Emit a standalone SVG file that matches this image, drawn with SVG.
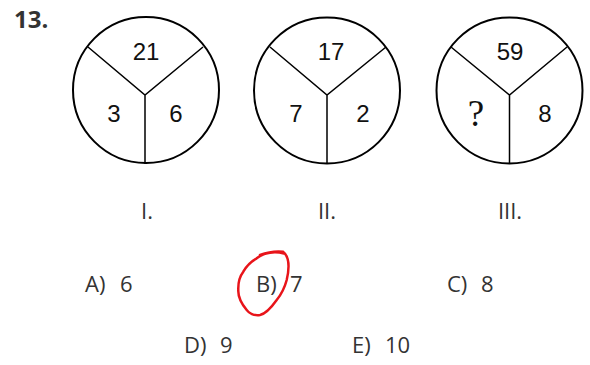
<svg xmlns="http://www.w3.org/2000/svg" width="590" height="365" viewBox="0 0 590 365">
<style>
.c{fill:none;stroke:#000;stroke-width:2}
.s{fill:none;stroke:#000;stroke-width:1.5}
.n{font-family:"Liberation Sans",Arial,sans-serif;font-size:24px;fill:#111;text-anchor:middle}
.q{font-family:"Liberation Serif","Times New Roman",serif;font-size:37px;fill:#111;text-anchor:middle}
.l{font-family:"Open Sans","Noto Sans",sans-serif;font-size:22px;fill:#333;text-anchor:middle}
.a{font-family:"Open Sans","Noto Sans",sans-serif;font-size:22px;fill:#333}
</style>
<rect width="590" height="365" fill="#fff"/>
<text x="14" y="28" font-family="'Open Sans','Noto Sans',sans-serif" font-size="24" font-weight="bold" fill="#333">13.</text>
<g id="circle1">
<circle class="c" cx="146" cy="90" r="73"/>
<path class="s" d="M88,47 L145,95 L203,47 M145,95 L145,164"/>
<text class="n" x="146" y="60">21</text>
<text class="n" x="114" y="122">3</text>
<text class="n" x="176" y="122">6</text>
</g>
<g id="circle2">
<circle class="c" cx="327" cy="90.5" r="73"/>
<path class="s" d="M270,47 L327,95 L386,47 M327,95 L327,164"/>
<text class="n" x="331" y="60">17</text>
<text class="n" x="296" y="122">7</text>
<text class="n" x="363" y="122">2</text>
</g>
<g id="circle3">
<circle class="c" cx="509.5" cy="90.5" r="73"/>
<path class="s" d="M451,47 L509.5,95 L567,47 M509.5,95 L509.5,164"/>
<text class="q" x="476" y="126">?</text>
<text class="n" x="510" y="60">59</text>
<text class="n" x="545" y="122">8</text>
</g>
<text class="l" x="147" y="219">I.</text>
<text class="l" x="327" y="219">II.</text>
<text class="l" x="510" y="219">III.</text>
<text class="a" x="85" y="292">A)</text><text class="a" x="120" y="292">6</text>
<text class="a" x="256" y="292">B)</text><text class="a" x="290" y="292">7</text>
<text class="a" x="447" y="292">C)</text><text class="a" x="481" y="292">8</text>
<text class="a" x="184" y="353">D)</text><text class="a" x="220" y="353">9</text>
<text class="a" x="352" y="353">E)</text><text class="a" x="385" y="353">10</text>
<path d="M260,255 C268,252 276,251 283,251.7 C290,257 289,270 286.7,280 C284,290 280,296 276.7,300 C271,308 265,314 260,315 C254,316 249,313 246.7,310 C241,303 238,296 238.3,290 C238,282 240,276 243.3,271.7 C247,265 252,261 256.7,258.3 C261,255 266,253 270,252.7 C275,252 280,252.5 284,253.5" fill="none" stroke="#e8141a" stroke-width="2.5" stroke-linecap="round"/>
</svg>
